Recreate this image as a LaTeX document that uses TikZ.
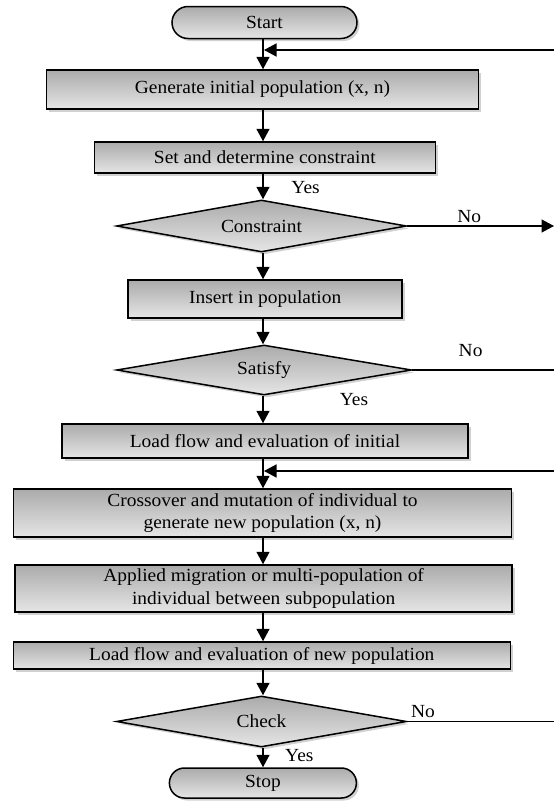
\documentclass[tikz,border=0pt]{standalone}
\usepackage{fontspec}
\setmainfont{Liberation Serif}[FakeStretch=1.05]
\usetikzlibrary{shapes.geometric,shapes.misc,arrows.meta,shadows}
\begin{document}
\begin{tikzpicture}[x=1pt,y=-1pt,
  every node/.style={font=\fontsize{18.5}{22.7}\selectfont},
  base/.style={draw=black,line width=1.5pt,top color=black!33,bottom color=black!10,
     drop shadow={shadow xshift=2.5pt,shadow yshift=-2.5pt,opacity=0.3,fill=black!60},
     inner sep=0pt,align=center},
  procbox/.style={base,rectangle},
  termbox/.style={base,rounded rectangle},
  decbox/.style={base,diamond,aspect=5},
  lbl/.style={font=\fontsize{18.5}{22.7}\selectfont,inner sep=0pt},
  arr/.style={line width=1.5pt,-{Triangle[length=12.5pt,width=13pt]}},
  ln/.style={line width=1.5pt}]
\useasboundingbox (0,0) rectangle (554,801);
% nodes
\node[termbox,minimum width=185pt,minimum height=32pt] (start) at (264.5,22.5) {Start};
\node[procbox,minimum width=432pt,minimum height=39pt] (gen) at (262.5,89.5) {Generate initial population (x, n)};
\node[procbox,minimum width=341pt,minimum height=31pt] (set) at (264.8,157.5) {Set and determine constraint};
\node[decbox,minimum width=290pt,minimum height=52pt] (con) at (261.5,226) {Constraint};
\node[procbox,minimum width=274pt,minimum height=38pt] (ins) at (265.2,299) {Insert in population};
\node[decbox,minimum width=295pt,minimum height=50pt] (sat) at (264.1,370) {Satisfy};
\node[procbox,minimum width=406pt,minimum height=34pt] (lfi) at (265,441) {Load flow and evaluation of initial};
\node[procbox,minimum width=498pt,minimum height=48pt] (cro) at (262.5,513) {Crossover and mutation of individual to\\generate new population (x, n)};
\node[procbox,minimum width=497pt,minimum height=47pt] (app) at (263.7,588.5) {Applied migration or multi-population of\\individual between subpopulation};
\node[procbox,minimum width=497pt,minimum height=27pt] (lfn) at (261.8,655.5) {Load flow and evaluation of new population};
\node[decbox,minimum width=290pt,minimum height=51pt] (chk) at (261.5,721.5) {Check};
\node[termbox,minimum width=187pt,minimum height=30pt] (stop) at (262.9,783) {Stop};
% labels
\node[lbl] (y1) at (305.6,188) {Yes};
\node[lbl] (n1) at (469.2,217) {No};
\node[lbl] (n2) at (470.6,351) {No};
\node[lbl] (y2) at (354,400) {Yes};
\node[lbl] (n3) at (423,712) {No};
\node[lbl] (y3) at (299.3,756) {Yes};
% coordinates
\coordinate (ax) at (263,0);
\coordinate (j1) at (264,50);
\coordinate (r1) at (554,50);
\coordinate (j2) at (264,471);
\coordinate (r2) at (554,471);
\coordinate (e1) at (554,226);
\coordinate (e2) at (554,370);
\coordinate (e3) at (554,721.5);
% connectors
\draw[arr] (start.south -| ax) -- (gen.north -| ax);
\draw[arr] (r1) -- (j1);
\draw[arr] (gen.south -| ax) -- (set.north -| ax);
\draw[arr] (set.south -| ax) -- (con.north -| ax);
\draw[arr] (con.east) -- (e1);
\draw[arr] (con.south -| ax) -- (ins.north -| ax);
\draw[arr] (ins.south -| ax) -- (sat.north -| ax);
\draw[ln] (sat.east) -- (e2);
\draw[arr] (sat.south -| ax) -- (lfi.north -| ax);
\draw[arr] (lfi.south -| ax) -- (cro.north -| ax);
\draw[arr] (r2) -- (j2);
\draw[arr] (cro.south -| ax) -- (app.north -| ax);
\draw[arr] (app.south -| ax) -- (lfn.north -| ax);
\draw[arr] (lfn.south -| ax) -- (chk.north -| ax);
\draw[ln] (chk.east) -- (e3);
\draw[arr] (chk.south -| ax) -- (stop.north -| ax);
\end{tikzpicture}
\end{document}
